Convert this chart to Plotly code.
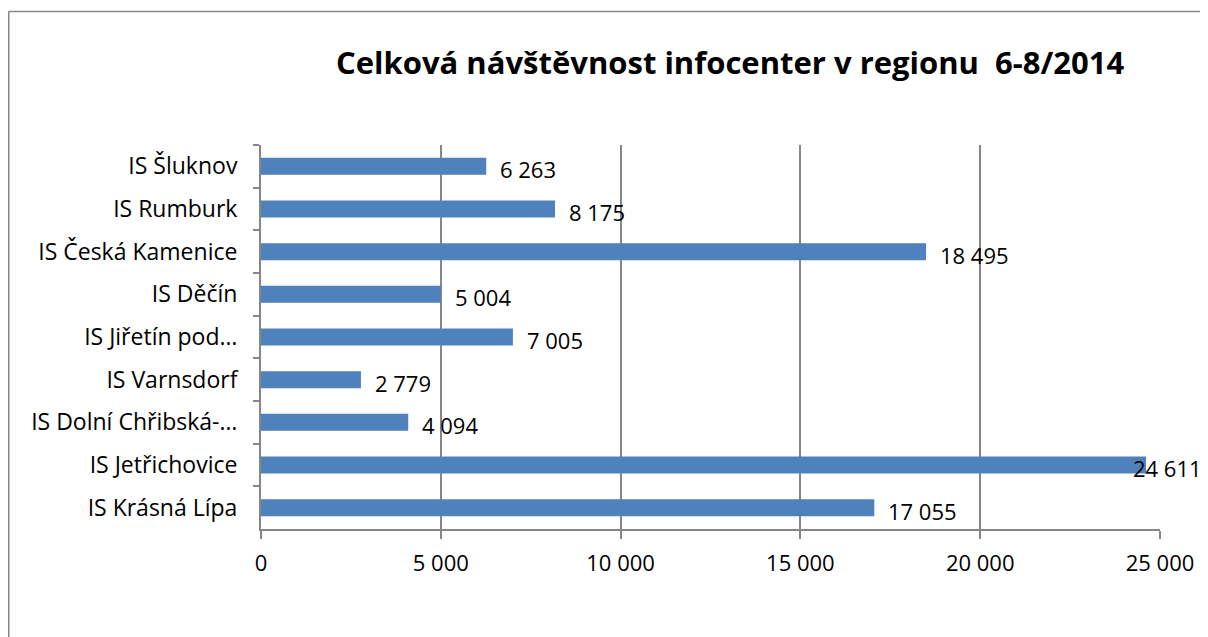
import plotly.graph_objects as go

categories = ["IS Šluknov", "IS Rumburk", "IS Česká Kamenice", "IS Děčín",
              "IS Jiřetín pod…", "IS Varnsdorf", "IS Dolní Chřibská-…",
              "IS Jetřichovice", "IS Krásná Lípa"]
values = [6263, 8175, 18495, 5004, 7005, 2779, 4094, 24611, 17055]
x_ticks = [0, 5000, 10000, 15000, 20000, 25000]
x_tick_labels = ["0", "5 000", "10 000", "15 000", "20 000", "25 000"]
title = "Celková návštěvnost infocenter v regionu  6-8/2014"

FONT = "Open Sans"
GRID = "#868686"
FS = 23

fig = go.Figure()
fig.add_trace(go.Bar(
    x=values, y=categories, orientation="h",
    marker=dict(color="#4F81BD", line=dict(width=0)),
    hoverinfo="x+y",
))

vmax = max(values)
annotations = []
for c, v in zip(categories, values):
    annotations.append(dict(
        x=v, y=c, xref="x", yref="y", xanchor="left", yanchor="middle",
        text=f"{v:,}".replace(",", " "), showarrow=False,
        xshift=(12 if v < vmax else -15), yshift=-3,
        font=dict(family=FONT, size=FS - 1, color="#000000"),
    ))

# page offset of 8px (body margin) accounted for
OFF = 8
W, H = 1208 - OFF, 637 - OFF
L, T = 261 - OFF, 145 - OFF
R = W - (1160 - OFF)
B = H - (529 - OFF)
pw, ph = W - L - R, H - T - B
bx = (8.5 - OFF - L) / pw
by = 1 + (T - (11.5 - OFF)) / ph
ty = 1 + (T - (62 - OFF)) / ph
tx = (730 - OFF - L) / pw

annotations.append(dict(
    x=tx, y=ty, xref="paper", yref="paper", xanchor="center", yanchor="middle",
    text="<b>" + title + "</b>", showarrow=False,
    font=dict(family=FONT, size=31, color="#000000"),
))

fig.update_layout(
    width=W, height=H,
    margin=dict(l=L, r=R, t=T, b=B, pad=0),
    paper_bgcolor="white", plot_bgcolor="white",
    bargap=0.6,
    showlegend=False,
    annotations=annotations,
    font=dict(family=FONT, size=FS, color="#000000"),
    shapes=[
        dict(type="line", xref="paper", yref="paper", x0=bx, x1=bx, y0=-1, y1=by,
             line=dict(color=GRID, width=2)),
        dict(type="line", xref="paper", yref="paper", x0=bx, x1=2, y0=by, y1=by,
             line=dict(color=GRID, width=1.5)),
    ],
    xaxis=dict(
        range=[0, 25000], tickvals=x_ticks, ticktext=x_tick_labels,
        showgrid=True, gridcolor=GRID, gridwidth=1.5,
        showline=True, linecolor=GRID, linewidth=2,
        ticks="outside", ticklen=8, tickcolor=GRID, tickwidth=2,
        ticklabelstandoff=6, zeroline=False,
        tickfont=dict(family=FONT, size=FS - 1, color="#000000"),
        fixedrange=True,
    ),
    yaxis=dict(
        categoryorder="array", categoryarray=categories, autorange="reversed",
        showline=True, linecolor=GRID, linewidth=2,
        ticks="outside", ticklen=6, tickcolor=GRID, tickwidth=2,
        tickson="boundaries", ticklabelstandoff=17,
        showgrid=False, zeroline=False,
        tickfont=dict(family=FONT, size=FS, color="#000000"),
        fixedrange=True,
    ),
)

fig.write_html("out.html")
